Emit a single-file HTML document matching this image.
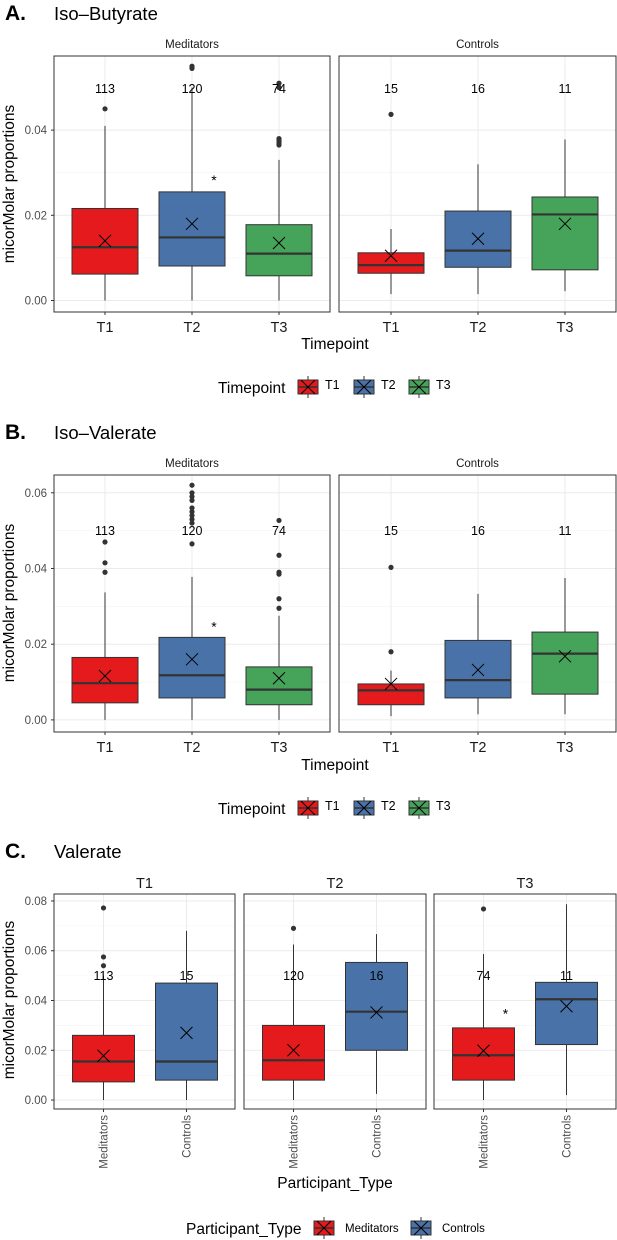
<!DOCTYPE html>
<html><head><meta charset="utf-8">
<style>
html,body{margin:0;padding:0;background:#fff;}
svg{display:block;font-family:"Liberation Sans",Arial,sans-serif;}
</style></head>
<body>
<svg id="chart" width="617" height="1240" viewBox="0 0 617 1240"></svg>
<script>
// ---------- DATA ----------
// Panel A: Iso-Butyrate (facets Meditators / Controls; categories T1,T2,T3)
const aCategories = ["T1","T2","T3"];
const aFacets = ["Meditators","Controls"];
const aCounts = [[113,120,74],[15,16,11]];
const aQ1 = [[0.0062,0.0081,0.0058],[0.0064,0.0078,0.0072]];
const aMedian = [[0.0125,0.0148,0.011],[0.0083,0.0117,0.0202]];
const aQ3 = [[0.0216,0.0255,0.0178],[0.0112,0.021,0.0243]];
const aWhiskLo = [[0,0,0],[0.0015,0.0015,0.0022]];
const aWhiskHi = [[0.041,0.05,0.033],[0.0168,0.032,0.0378]];
const aMean = [[0.014,0.018,0.0135],[0.0105,0.0145,0.018]];
const aOutliers = [[[0.045],[0.0545,0.055],[0.0365,0.037,0.0375,0.038,0.050,0.051]],[[0.0437],[],[]]];
const aTicks = [0,0.02,0.04];
const aStar = [0,1,0.029];

// Panel B: Iso-Valerate
const bCounts = [[113,120,74],[15,16,11]];
const bQ1 = [[0.0045,0.0058,0.004],[0.004,0.0058,0.0068]];
const bMedian = [[0.0097,0.0118,0.008],[0.0078,0.0105,0.0175]];
const bQ3 = [[0.0165,0.0218,0.014],[0.0095,0.021,0.0232]];
const bWhiskLo = [[0,0,0],[0.001,0.0015,0.0015]];
const bWhiskHi = [[0.0337,0.0378,0.0275],[0.013,0.0333,0.0375]];
const bMean = [[0.0116,0.016,0.011],[0.0095,0.0132,0.0168]];
const bOutliers = [[[0.039,0.0415,0.047],[0.0465,0.052,0.053,0.054,0.055,0.056,0.058,0.059,0.060,0.062],[0.0295,0.032,0.0385,0.039,0.0435,0.0527]],[[0.018,0.0403],[],[]]];
const bTicks = [0,0.02,0.04,0.06];
const bStar = [0,1,0.0255];

// Panel C: Valerate (facets T1,T2,T3; categories Meditators, Controls)
const cFacets = ["T1","T2","T3"];
const cCategories = ["Meditators","Controls"];
const cCounts = [[113,15],[120,16],[74,11]];
const cQ1 = [[0.0073,0.008],[0.008,0.020],[0.008,0.0223]];
const cMedian = [[0.0155,0.0155],[0.016,0.0355],[0.018,0.0405]];
const cQ3 = [[0.026,0.047],[0.030,0.0553],[0.029,0.0473]];
const cWhiskLo = [[0,0],[0,0.0025],[0,0.002]];
const cWhiskHi = [[0.05,0.068],[0.0625,0.0667],[0.0587,0.0787]];
const cMean = [[0.0178,0.027],[0.020,0.0352],[0.0198,0.0377]];
const cOutliers = [[[0.054,0.0575,0.0772],[]],[[0.069],[]],[[0.0768],[]]];
const cTicks = [0,0.02,0.04,0.06,0.08];
const cStar = [2,0,0.036];

// ---------- DRAWING ----------
const NS = "http://www.w3.org/2000/svg";
const svg = document.getElementById("chart");
const tpColors = ["#E41A1C","#4872A8","#46A35A"];
const ptColors = ["#E41A1C","#4872A8"];
function mk(tag, attrs, parent, text){
  const e = document.createElementNS(NS, tag);
  for (const k in attrs) e.setAttribute(k, attrs[k]);
  if (text !== undefined) e.textContent = text;
  (parent||svg).appendChild(e);
  return e;
}
function txt(x,y,s,size,anchor,fill,parent,extra){
  const a = {x:x,y:y,"font-size":size,"text-anchor":anchor||"middle",fill:fill||"#000"};
  if (extra) for (const k in extra) a[k]=extra[k];
  return mk("text",a,parent,s);
}
function yScale(p, v){ return p.y0 - (v - p.vmin)/(p.vmax - p.vmin)*(p.y0 - p.y1); }

function drawPanel(p, pi, cats, fill, counts, q1,med,q3,wlo,whi,mean,outs, labelRot, boxW){
  const g = mk("g",{});
  
  
  mk("rect",{x:p.x0,y:p.y1,width:p.x1-p.x0,height:p.y0-p.y1,fill:"#fff"},g);
  p.ticks.forEach((t,i)=>{
    const y = yScale(p,t);
    mk("line",{x1:p.x0,x2:p.x1,y1:y,y2:y,stroke:"#EBEBEB","stroke-width":1},g);
    if (i < p.ticks.length-1){
      const ym = yScale(p,(t+p.ticks[i+1])/2);
      mk("line",{x1:p.x0,x2:p.x1,y1:ym,y2:ym,stroke:"#F4F4F4","stroke-width":0.6},g);
    }
  });
  cats.forEach((c,i)=>{
    const x = p.xs[i];
    mk("line",{x1:x,x2:x,y1:p.y1,y2:p.y0,stroke:"#EBEBEB","stroke-width":1},g);
  });
  cats.forEach((c,i)=>{
    const x = p.xs[i];
    const bg = mk("g",{},g);
    
    
    mk("line",{x1:x,x2:x,y1:yScale(p,wlo[pi][i]),y2:yScale(p,whi[pi][i]),stroke:"#333","stroke-width":1},bg);
    mk("rect",{x:x-boxW/2,y:yScale(p,q3[pi][i]),width:boxW,height:yScale(p,q1[pi][i])-yScale(p,q3[pi][i]),fill:fill[i],stroke:"#333","stroke-width":1},bg);
    mk("line",{x1:x-boxW/2,x2:x+boxW/2,y1:yScale(p,med[pi][i]),y2:yScale(p,med[pi][i]),stroke:"#333","stroke-width":2.2},bg);
    outs[pi][i].forEach(v=>{
      const d = mk("circle",{cx:x,cy:yScale(p,v),r:2.6,fill:"#333"},bg);
      
      
    });
    const my = yScale(p,mean[pi][i]);
    const m = mk("path",{d:`M${x-6} ${my-6}L${x+6} ${my+6}M${x-6} ${my+6}L${x+6} ${my-6}`,stroke:"#000","stroke-width":1,fill:"none"},bg);
    
    
    const ct = txt(x,p.countY,String(counts[pi][i]),12.5,"middle","#000",bg);
    
    
    mk("line",{x1:x,x2:x,y1:p.y0b,y2:p.y0b+3,stroke:"#333","stroke-width":1},g);
    let tl;
    if (labelRot){
      tl = txt(0,0,c,11.5,"end","#4D4D4D",g,{transform:`translate(${x+4},${p.y0b+6}) rotate(-90)`});
    } else {
      tl = txt(x,p.y0b+20,c,14.5,"middle","#1a1a1a",g);
    }
    
    
  });
  mk("rect",{x:p.x0,y:p.y1,width:p.x1-p.x0,height:p.y0b-p.y1,fill:"none",stroke:"#333","stroke-width":1},g);
  const st = txt((p.x0+p.x1)/2,p.stripY,p.name,p.stripSize,"middle","#1a1a1a",g);
  
  
}
function yAxis(p){
  const g = mk("g",{});
  
  
  p.ticks.forEach(t=>{
    const y = yScale(p,t);
    mk("line",{x1:p.x0-3,x2:p.x0,y1:y,y2:y,stroke:"#333","stroke-width":1},g);
    const l = txt(p.x0-7,y+4,t.toFixed(2),11.5,"end","#4D4D4D",g);
    
    
  });
}
function legendKey(x,y,col,parent){
  mk("line",{x1:x+10,x2:x+10,y1:y-11,y2:y+11,stroke:"#333","stroke-width":1},parent);
  mk("rect",{x:x,y:y-7,width:20,height:14,fill:col,stroke:"#333","stroke-width":1},parent);
  mk("line",{x1:x,x2:x+20,y1:y,y2:y,stroke:"#333","stroke-width":1.5},parent);
  mk("path",{d:`M${x+3} ${y-7}L${x+17} ${y+7}M${x+3} ${y+7}L${x+17} ${y-7}`,stroke:"#000","stroke-width":1,fill:"none"},parent);
}
function titleBlock(letter,name,y){
  const a = txt(5,y,letter,21,"start","#000",null,{"font-weight":"bold"});
  
  
  const b = txt(54,y,name,18.5,"start","#000");
  
  
}
function yTitle(cy){
  const t = txt(0,0,"micorMolar proportions",15.5,"middle","#000",null,{transform:`translate(14,${cy}) rotate(-90)`});
  
  
}
function tpLegend(y){
  const g = mk("g",{});
  
  
  txt(218,y+6,"Timepoint",15.5,"start","#000",g);
  const xs=[298,354,409];
  aCategories.forEach((c,i)=>{
    const e = mk("g",{},g);
    
    
    legendKey(xs[i],y,tpColors[i],e);
    txt(xs[i]+27,y+2,c,12.5,"start","#000",e);
  });
}

// ---- Panel A
titleBlock("A.","Iso\u2013Butyrate",20);
const aPanels = aFacets.map((f,i)=>({name:f,x0:i?339:54,x1:i?616:330,y1:56,y0b:312,y0:312,vmin:-0.0027,vmax:0.0574,ticks:aTicks,
  xs:i?[391,478,565]:[105,192,279],countY:93,stripY:48,stripSize:11.5}));
aPanels.forEach((p,i)=>drawPanel(p,i,aCategories,tpColors,aCounts,aQ1,aMedian,aQ3,aWhiskLo,aWhiskHi,aMean,aOutliers,false,66));
yAxis(aPanels[0]);
txt(aPanels[aStar[0]].xs[aStar[1]]+22,yScale(aPanels[0],aStar[2])+8,"*",14,"middle","#000");
yTitle(184);
txt(335,349,"Timepoint",15.5,"middle","#000");
tpLegend(387);

// ---- Panel B
titleBlock("B.","Iso\u2013Valerate",439);
const bPanels = aFacets.map((f,i)=>({name:f,x0:i?339:54,x1:i?616:330,y1:475,y0b:732,y0:732,vmin:-0.0032,vmax:0.0647,ticks:bTicks,
  xs:i?[391,478,565]:[105,192,279],countY:535,stripY:467,stripSize:11.5}));
bPanels.forEach((p,i)=>drawPanel(p,i,aCategories,tpColors,bCounts,bQ1,bMedian,bQ3,bWhiskLo,bWhiskHi,bMean,bOutliers,false,66));
yAxis(bPanels[0]);
txt(bPanels[bStar[0]].xs[bStar[1]]+22,yScale(bPanels[0],bStar[2])+8,"*",14,"middle","#000");
yTitle(603);
txt(335,770,"Timepoint",15.5,"middle","#000");
tpLegend(808);

// ---- Panel C
titleBlock("C.","Valerate",858);
const cx0=[54,244,434], cx1=[235,426,616];
const cPanels = cFacets.map((f,i)=>({name:f,x0:cx0[i],x1:cx1[i],y1:894,y0b:1109,y0:1109,vmin:-0.0036,vmax:0.0828,ticks:cTicks,
  xs:[cx0[i]+49.5,cx0[i]+132.5],countY:980,stripY:888,stripSize:14.5}));
cPanels.forEach((p,i)=>drawPanel(p,i,cCategories,ptColors,cCounts,cQ1,cMedian,cQ3,cWhiskLo,cWhiskHi,cMean,cOutliers,true,62));
yAxis(cPanels[0]);
txt(cPanels[cStar[0]].xs[cStar[1]]+22,yScale(cPanels[0],cStar[2])+8,"*",14,"middle","#000");
yTitle(1000);
txt(335,1188,"Participant_Type",15.5,"middle","#000");
(function(){
  const g = mk("g",{});
  
  
  const y=1228;
  txt(186,y+6,"Participant_Type",15.5,"start","#000",g);
  const xs=[314,411];
  cCategories.forEach((c,i)=>{
    const e = mk("g",{},g);
    
    
    legendKey(xs[i],y,ptColors[i],e);
    txt(xs[i]+31,y+4,c,11.5,"start","#000",e);
  });
})();
</script>
</body></html>
